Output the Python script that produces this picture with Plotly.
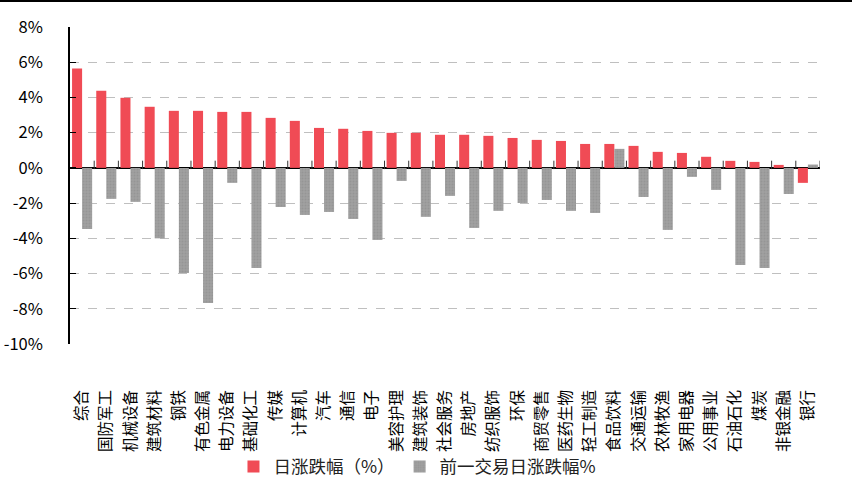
import plotly.graph_objects as go

categories = ["综合", "国防军工", "机械设备", "建筑材料", "钢铁", "有色金属", "电力设备", "基础化工",
              "传媒", "计算机", "汽车", "通信", "电子", "美容护理", "建筑装饰", "社会服务", "房地产",
              "纺织服饰", "环保", "商贸零售", "医药生物", "轻工制造", "食品饮料", "交通运输", "农林牧渔",
              "家用电器", "公用事业", "石油石化", "煤炭", "非银金融", "银行"]
today_pct = [5.65, 4.38, 3.98, 3.47, 3.24, 3.24, 3.18, 3.18, 2.84, 2.67, 2.27, 2.22, 2.10, 1.99, 1.99,
             1.88, 1.88, 1.82, 1.70, 1.59, 1.53, 1.36, 1.36, 1.25, 0.91, 0.85, 0.63, 0.40, 0.34, 0.17, -0.85]
prev_pct = [-3.47, -1.76, -1.93, -4.00, -5.97, -7.67, -0.85, -5.68, -2.22, -2.67, -2.50, -2.90, -4.09,
            -0.74, -2.78, -1.59, -3.41, -2.44, -1.99, -1.82, -2.44, -2.56, 1.08, -1.65, -3.52, -0.51,
            -1.25, -5.51, -5.68, -1.48, 0.19]
y_ticks = [-10, -8, -6, -4, -2, 0, 2, 4, 6, 8]
y_tick_labels = [f"{v}%" for v in y_ticks]

FONT = "Noto Sans CJK SC, Microsoft YaHei, sans-serif"
n = len(categories)
xs = list(range(n))

fig = go.Figure()
fig.add_trace(go.Bar(
    x=xs, y=today_pct, name="日涨跌幅（%）",
    marker=dict(color="#F04B55", line=dict(width=0)),
))
fig.add_trace(go.Bar(
    x=xs, y=prev_pct, name="前一交易日涨跌幅%",
    marker=dict(color="#9A9A9A", line=dict(width=0),
                pattern=dict(shape=".", fgcolor="#8A8A8A", bgcolor="#A0A0A0", size=3, solidity=0.3)),
))
# small category-boundary ticks along the zero line
bounds = [i - 0.5 for i in range(1, n + 1)]
fig.add_trace(go.Scatter(
    x=bounds, y=[0.17] * len(bounds), mode="markers", showlegend=False, hoverinfo="skip",
    marker=dict(symbol="line-ns", size=6, line=dict(color="#333333", width=1)),
))

fig.update_layout(
    width=852, height=479,
    margin=dict(l=70, r=32, t=27, b=135, autoexpand=False),
    paper_bgcolor="white", plot_bgcolor="white",
    barmode="group", bargap=0.17, bargroupgap=0,
    font=dict(family=FONT, color="#000000"),
    legend=dict(orientation="h", xref="container", x=0.49, xanchor="center",
                yref="container", y=0.026, yanchor="middle", bgcolor="rgba(0,0,0,0)",
                font=dict(size=17.5, color="#222222"), itemwidth=30, traceorder="normal"),
    showlegend=True,
)
fig.update_xaxes(
    range=[-0.5, n - 0.5], automargin=False,
    tickvals=xs, ticktext=categories, tickangle=-90,
    tickfont=dict(size=15.5, family=FONT, color="#000000"),
    ticks="", showgrid=False, showline=False, zeroline=False,
    ticklabelstandoff=42,
)
fig.update_yaxes(
    range=[-10, 8], tickvals=y_ticks, ticktext=y_tick_labels, automargin=False,
    tickfont=dict(size=16.5, family=FONT, color="#000000"),
    showgrid=True, gridcolor="#BFBFBF", griddash="dash", gridwidth=1,
    showline=True, linecolor="#000000", linewidth=1.5,
    ticks="inside", ticklen=6, tickcolor="#000000",
    zeroline=True, zerolinecolor="#000000", zerolinewidth=1.5,
    ticklabelstandoff=22,
)
fig.add_shape(type="line", xref="paper", yref="paper", x0=-0.1, x1=1.05, y0=1.082, y1=1.082,
              line=dict(color="#000000", width=2))

fig.write_html("out.html", config={"displayModeBar": False},
               post_script="document.body.style.margin='0';document.body.style.padding='0';")
